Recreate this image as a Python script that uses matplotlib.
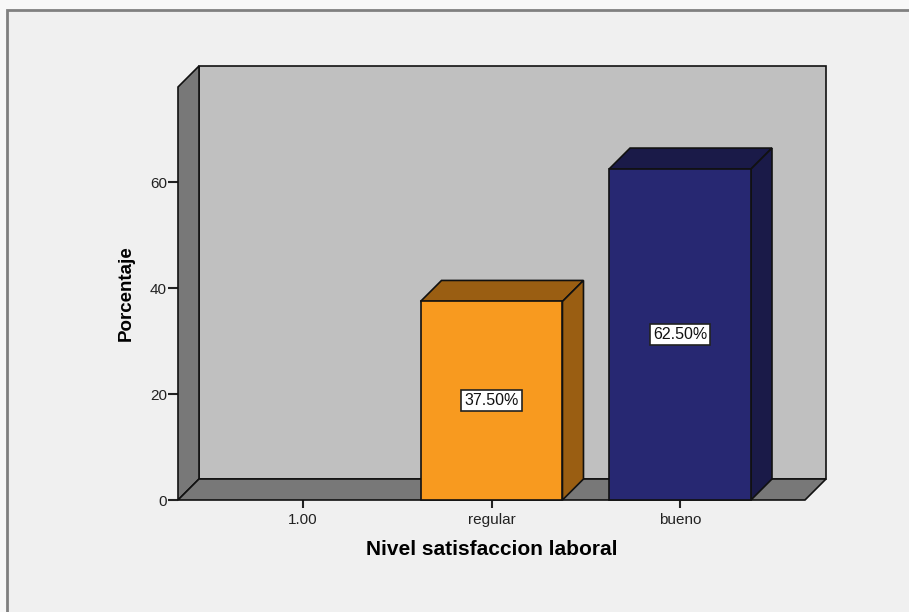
import matplotlib.pyplot as plt
from matplotlib.patches import Polygon, Rectangle

plt.rcParams['font.family'] = ['Liberation Sans', 'DejaVu Sans']

categories = ['1.00', 'regular', 'bueno']
percentages = [0.0, 37.5, 62.5]
y_ticks = [0, 20, 40, 60]

front_colors = ['#c0c0c0', '#f89a1f', '#272872']
shade_colors = ['#7a7a7a', '#9a5e12', '#1a1a48']

W, H = 909, 612
fig = plt.figure(figsize=(W / 100, H / 100), dpi=100, facecolor='#f8f8f8')

# marco de la ventana
fig.patches.append(Rectangle((7.5 / W, -0.1), 1.2, 1 - 9.5 / H + 0.1,
                             transform=fig.transFigure, facecolor='#f0f0f0',
                             edgecolor='#808080', lw=2, zorder=-10))

# plano frontal de los ejes (pixeles de la imagen)
left, right, bottom, top = 178, 805, 500, 87
ax = fig.add_axes([left / W, (H - bottom) / H, (right - left) / W, (bottom - top) / H])
ax.set_zorder(1)
ax.patch.set_visible(False)

x0, x1 = -0.663, 2.663
y0, y1 = 0, 78
ax.set_xlim(x0, x1)
ax.set_ylim(y0, y1)
for s in ax.spines.values():
    s.set_visible(False)

# profundidad 3D en unidades de datos (21 px)
depth_px = 21
DX = depth_px * (x1 - x0) / (right - left)
DY = depth_px * (y1 - y0) / (bottom - top)

edge = dict(edgecolor='#111111', lw=1.2, clip_on=False)

# pared de fondo, pared izquierda y piso
ax.add_patch(Rectangle((x0 + DX, y0 + DY), x1 - x0, y1 - y0,
                       facecolor='#c0c0c0', zorder=1, **edge))
ax.add_patch(Polygon([(x0, y0), (x0, y1), (x0 + DX, y1 + DY), (x0 + DX, y0 + DY)],
                     facecolor='#787878', zorder=2, **edge))
ax.add_patch(Polygon([(x0, y0), (x1, y0), (x1 + DX, y0 + DY), (x0 + DX, y0 + DY)],
                     facecolor='#787878', zorder=2, **edge))

bar_w = 0.753
for i, v in enumerate(percentages):
    if v <= 0:
        continue
    a, b = i - bar_w / 2, i + bar_w / 2
    ax.add_patch(Polygon([(a, v), (b, v), (b + DX, v + DY), (a + DX, v + DY)],
                         facecolor=shade_colors[i], zorder=3, **edge))
    ax.add_patch(Polygon([(b, 0), (b, v), (b + DX, v + DY), (b + DX, DY)],
                         facecolor=shade_colors[i], zorder=3, **edge))
    ax.add_patch(Rectangle((a, 0), bar_w, v, facecolor=front_colors[i],
                           zorder=4, **edge))
    ax.text(i, v / 2, f'{v:.2f}%', ha='center', va='center', fontsize=11.5,
            color='#111111', zorder=5,
            bbox=dict(boxstyle='square,pad=0.18', facecolor='white',
                      edgecolor='#222222', lw=1.2))

ax.set_xticks(range(len(categories)))
ax.set_xticklabels(categories)
ax.set_yticks(y_ticks)
ax.tick_params(axis='y', length=7, width=1.5, color='#222222',
               labelsize=11, labelcolor='#222222', pad=1)
ax.tick_params(axis='x', length=5.5, width=1.5, color='#222222',
               labelsize=11, labelcolor='#222222', pad=4)

ax.set_xlabel('Nivel satisfaccion laboral', fontsize=15, fontweight='bold',
              labelpad=9)
ax.set_ylabel('Porcentaje', fontsize=13.5, fontweight='bold', labelpad=11)

fig.savefig('out.png', dpi=100, facecolor=fig.get_facecolor())
